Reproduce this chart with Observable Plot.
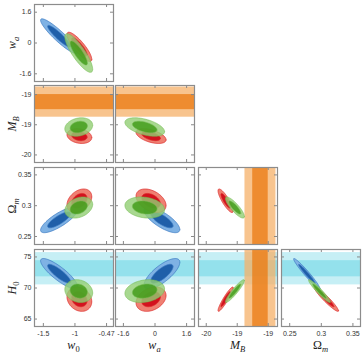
<!DOCTYPE html>
<html><head><meta charset="utf-8">
<script src="https://cdn.jsdelivr.net/npm/d3@7"></script>
<script src="https://cdn.jsdelivr.net/npm/@observablehq/plot@0.6"></script>
<style>
body{margin:0;background:#fff;}
#chart{position:relative;width:364px;height:354px;overflow:hidden;background:#fff;}
#chart svg{position:absolute;}
.lab{position:absolute;font-family:"Liberation Serif",serif;font-size:12px;white-space:nowrap;line-height:1;color:#222;}
.lab sub{font-size:8.5px;vertical-align:-3px;line-height:0;}
</style></head><body><div id="chart"></div>
<script>
// ---- parameter axes ----
const paramNames = ["w0", "wa", "MB", "Om", "H0"];
const paramLabelsHTML = ["<i>w</i><sub>0</sub>", "<i>w</i><sub><i>a</i></sub>", "<i>M</i><sub><i>B</i></sub>", "Ω<sub><i>m</i></sub>", "<i>H</i><sub>0</sub>"];
const axisDomains = [[-1.64, -0.39], [-2, 2], [-19.9, -18.88], [0.237, 0.362], [63.8, 76.2]];
const tickValues = [[-1.5, -1, -0.5], [-1.6, 0, 1.6], [-19.8, -19.4, -19.0], [0.25, 0.3, 0.35], [65, 70, 75]];
const tickLabels = [["-1.5", "-1", "-0.47"], ["-1.6", "0", "1.6"], ["-20", "-19", "-19"], ["0.25", "0.3", "0.35"], ["65", "70", "75"]];

// ---- dataset summaries (null = not constrained) ----
const blueMean  = [-1.25, 0.35, null, 0.277, 72.3];
const blueSigma = [0.12, 0.37, null, 0.0085, 1.0];
const redMean   = [-0.93, -0.2, -19.55, 0.308, 68.2];
const redSigma  = [0.08, 0.31, 0.04, 0.0078, 0.8];
const greenMean = [-0.94, -0.52, -19.43, 0.297, 69.5];
const greenSigma= [0.09, 0.41, 0.05, 0.007, 0.75];
// correlation for each (column, row) pair
const pairs = [["w0","wa"],["w0","MB"],["wa","MB"],["w0","Om"],["wa","Om"],["MB","Om"],["w0","H0"],["wa","H0"],["MB","H0"],["Om","H0"]];
const blueRho  = [-0.92, null, null, 0.8, -0.75, null, -0.85, 0.75, null, -0.97];
const redRho   = [-0.85, -0.2, -0.5, 0.35, -0.4, -0.85, -0.2, 0.3, 0.93, -0.95];
const greenRho = [-0.84, 0.2, -0.5, 0.3, -0.2, -0.85, -0.15, 0.2, 0.93, -0.95];
// contour levels (95% and 68% radii for a 2D Gaussian)
const levelRadius = [2.45, 1.52];
// external priors shown as bands: [mean, sigma]
const mbPrior = [-19.1, 0.1];
const h0Prior = [73.1, 1.3];

const datasets = [
  {mean: blueMean, sigma: blueSigma, rho: blueRho, fills: ["#7fb2e4", "#1f5fa9"], edge: "#3a78c2", op: 1},
  {mean: redMean, sigma: redSigma, rho: redRho, fills: ["#ef8072", "#d3121e"], edge: "#dd2a2a", op: 1},
  {mean: greenMean, sigma: greenSigma, rho: greenRho, fills: ["#92ce74", "#3d9a14"], edge: "#74bb52", op: 0.8}
];

// ---- layout ----
const colLeft = [34, 115, 198, 281], rowTop = [4, 85, 167, 249];
const PW = 79, PH = 77;
const chart = document.getElementById("chart");

function ellipse(mx, my, sx, sy, rho, r) {
  const pts = [], k = Math.sqrt(1 - rho * rho);
  for (let i = 0; i < 96; i++) {
    const t = 2 * Math.PI * i / 96, a = Math.cos(t), b = Math.sin(t);
    pts.push({x: mx + r * sx * a, y: my + r * sy * (rho * a + k * b)});
  }
  return pts;
}

for (let r = 0; r < 4; r++) {
  for (let c = 0; c <= r; c++) {
    const ix = c, iy = r + 1;
    const pi = pairs.findIndex(p => p[0] === paramNames[ix] && p[1] === paramNames[iy]);
    const xd = axisDomains[ix], yd = axisDomains[iy];
    const marks = [];
    // bands
    if (paramNames[iy] === "H0") {
      marks.push(Plot.rect([h0Prior], {x1: xd[0], x2: xd[1], y1: d => d[0] - 2 * d[1], y2: d => d[0] + 2 * d[1], fill: "#c6eff5", clip: true}));
      marks.push(Plot.rect([h0Prior], {x1: xd[0], x2: xd[1], y1: d => d[0] - d[1], y2: d => d[0] + d[1], fill: "#94e1ec", clip: true}));
    }
    if (paramNames[iy] === "MB") {
      marks.push(Plot.rect([mbPrior], {x1: xd[0], x2: xd[1], y1: d => d[0] - 2 * d[1], y2: d => d[0] + 2 * d[1], fill: "#f6b068", fillOpacity: 0.75, clip: true}));
      marks.push(Plot.rect([mbPrior], {x1: xd[0], x2: xd[1], y1: d => d[0] - d[1], y2: d => d[0] + d[1], fill: "#eb7a10", fillOpacity: 0.75, clip: true}));
    }
    if (paramNames[ix] === "MB") {
      marks.push(Plot.rect([mbPrior], {y1: yd[0], y2: yd[1], x1: d => d[0] - 2 * d[1], x2: d => d[0] + 2 * d[1], fill: "#f6b068", fillOpacity: 0.75, clip: true}));
      marks.push(Plot.rect([mbPrior], {y1: yd[0], y2: yd[1], x1: d => d[0] - d[1], x2: d => d[0] + d[1], fill: "#eb7a10", fillOpacity: 0.75, clip: true}));
    }
    // contours
    for (const ds of datasets) {
      if (ds.mean[ix] == null || ds.mean[iy] == null || ds.rho[pi] == null) continue;
      levelRadius.forEach((rad, li) => {
        const pts = ellipse(ds.mean[ix], ds.mean[iy], ds.sigma[ix], ds.sigma[iy], ds.rho[pi], rad);
        marks.push(Plot.line(pts, {x: "x", y: "y", curve: "linear-closed", fill: ds.fills[li], fillOpacity: ds.op, stroke: ds.edge, strokeWidth: 0.7, strokeOpacity: ds.op, clip: true}));
      });
    }
    // frame and inward ticks
    const tx = tickValues[ix], ty = tickValues[iy];
    marks.push(Plot.tickX(tx, {x: d => d, insetBottom: PH - 3, stroke: "#888"}));
    marks.push(Plot.tickX(tx, {x: d => d, insetTop: PH - 3, stroke: "#888"}));
    marks.push(Plot.tickY(ty, {y: d => d, insetRight: PW - 3, stroke: "#888"}));
    marks.push(Plot.tickY(ty, {y: d => d, insetLeft: PW - 3, stroke: "#888"}));
    marks.push(Plot.frame({stroke: "#8c8c8c", strokeWidth: 1.2}));
    const ml = c === 0 ? 34 : 1, mb = r === 3 ? 16 : 1, mt = 1, mr = 1;
    if (c === 0) marks.push(Plot.axisY({ticks: ty, tickFormat: d => tickLabels[iy][ty.indexOf(d)], tickSize: 0, tickPadding: 3, label: null, fill: "#333"}));
    if (r === 3) marks.push(Plot.axisX({ticks: tx, tickFormat: d => tickLabels[ix][tx.indexOf(d)], tickSize: 0, tickPadding: 5, label: null, fill: "#333"}));
    const svg = Plot.plot({
      width: PW + ml + mr, height: PH + mt + mb,
      marginLeft: ml, marginRight: mr, marginTop: mt, marginBottom: mb,
      style: {background: "transparent", overflow: "visible", fontFamily: "Liberation Sans, Arial, sans-serif", fontSize: "7px"},
      x: {domain: xd, axis: null},
      y: {domain: yd, axis: null},
      marks
    });
    svg.style.left = (colLeft[c] - ml) + "px";
    svg.style.top = (rowTop[r] - mt) + "px";
    chart.appendChild(svg);
  }
}

// axis titles
for (let c = 0; c < 4; c++) {
  const d = document.createElement("div");
  d.className = "lab";
  d.innerHTML = paramLabelsHTML[c];
  d.style.left = (colLeft[c] + PW / 2) + "px";
  d.style.top = "339px";
  d.style.transform = "translate(-50%,0)";
  chart.appendChild(d);
}
for (let r = 0; r < 4; r++) {
  const d = document.createElement("div");
  d.className = "lab";
  d.innerHTML = paramLabelsHTML[r + 1];
  d.style.left = "12px";
  d.style.top = (rowTop[r] + PH / 2) + "px";
  d.style.transform = "translate(-50%,-50%) rotate(-90deg)";
  chart.appendChild(d);
}
</script></body></html>
